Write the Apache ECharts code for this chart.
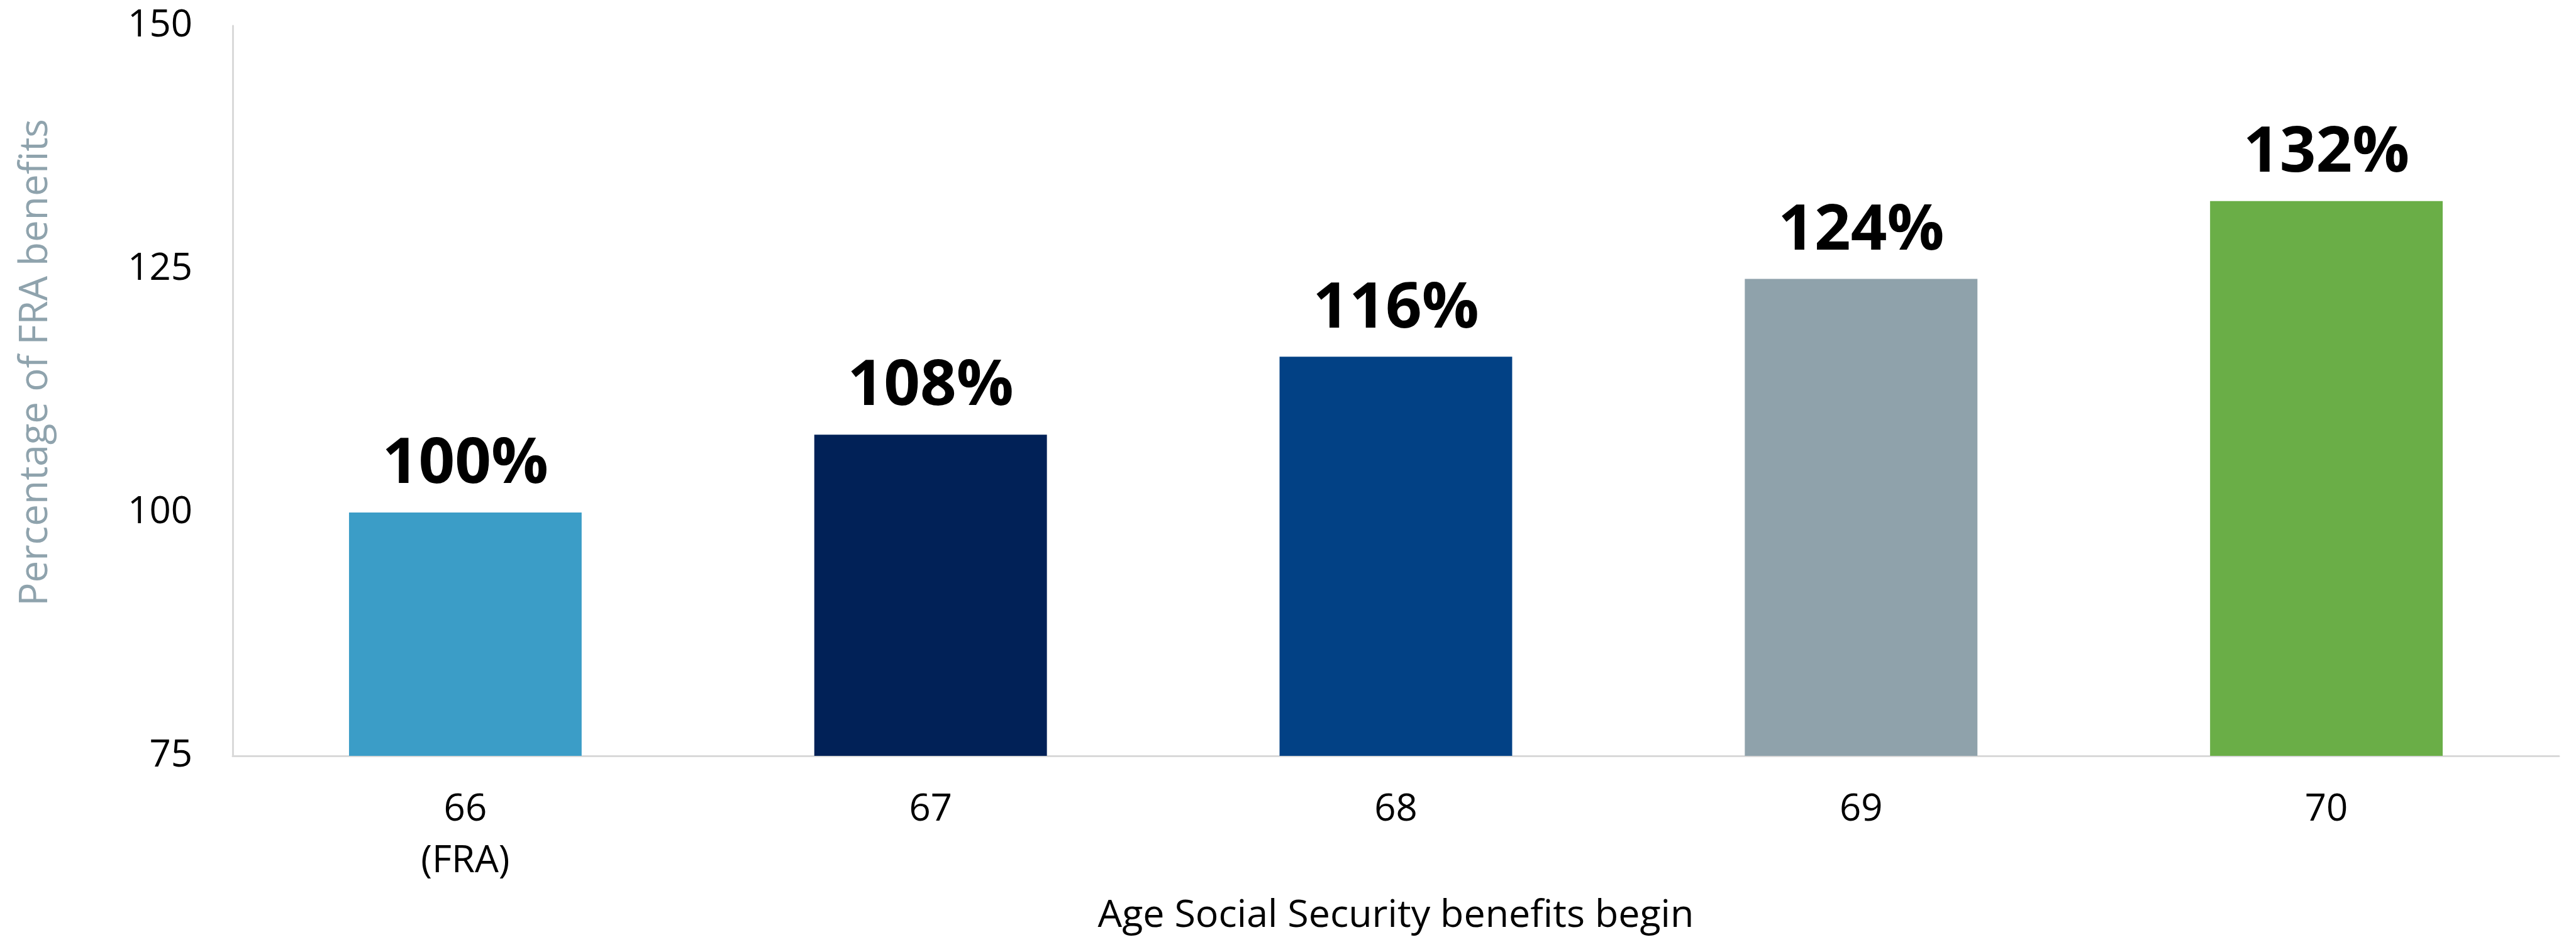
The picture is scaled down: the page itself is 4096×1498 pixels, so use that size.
<!DOCTYPE html>
<html>
<head>
<meta charset="utf-8">
<script src="https://cdn.jsdelivr.net/npm/echarts@6/dist/echarts.min.js"></script>
<style>
html,body{margin:0;padding:0;background:#fff;}
#chart{width:4096px;height:1498px;}
</style>
</head>
<body>
<div id="chart"></div>
<script>
const categories = ['66\n(FRA)', '67', '68', '69', '70'];
const values = [100, 108, 116, 124, 132];
const barColors = ['#3b9dc7', '#012157', '#024185', '#8fa2ab', '#6aae47'];
const yTicks = [75, 100, 125, 150];
const xTitle = 'Age Social Security benefits begin';
const yTitle = 'Percentage of FRA benefits';

const chart = echarts.init(document.getElementById('chart'));
chart.setOption({
  animation: false,
  backgroundColor: '#ffffff',
  textStyle: { fontFamily: 'Open Sans' },
  grid: { left: 370, right: 27, top: 41, bottom: 296, containLabel: false },
  xAxis: {
    type: 'category',
    data: categories,
    name: xTitle,
    nameLocation: 'middle',
    nameGap: 224,
    nameTextStyle: { fontFamily: 'Open Sans', fontSize: 61, color: '#000', lineHeight: 62 },
    axisLine: { show: true, lineStyle: { color: '#d9d9d9', width: 3 } },
    axisTick: { show: false },
    axisLabel: { fontFamily: 'Open Sans', fontSize: 60, color: '#000', lineHeight: 82, margin: 45 },
    splitLine: { show: false }
  },
  yAxis: {
    type: 'value',
    min: yTicks[0],
    max: yTicks[yTicks.length - 1],
    interval: yTicks[1] - yTicks[0],
    name: yTitle,
    nameLocation: 'middle',
    nameGap: 282,
    nameRotate: 90,
    nameTextStyle: { fontFamily: 'Open Sans', fontSize: 62, color: '#8fa3ad', lineHeight: 62, padding: [0, 0, 0, 90] },
    axisLine: { show: true, lineStyle: { color: '#d9d9d9', width: 3 } },
    axisTick: { show: false },
    axisLabel: { fontFamily: 'Open Sans', fontSize: 60, color: '#000', margin: 64 },
    splitLine: { show: false }
  },
  series: [{
    type: 'bar',
    data: values.map((v, i) => ({ value: v, itemStyle: { color: barColors[i] } })),
    barWidth: '50%',
    label: {
      show: true,
      position: 'top',
      distance: 25,
      formatter: '{c}%',
      fontFamily: 'Open Sans',
      fontWeight: 'bold',
      fontSize: 101,
      lineHeight: 101,
      color: '#000'
    }
  }]
});
</script>
</body>
</html>
